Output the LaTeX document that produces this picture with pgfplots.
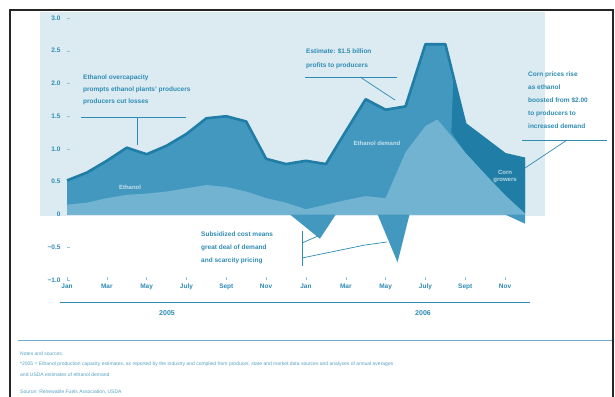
\documentclass[border=0pt]{standalone}
\usepackage{fontspec}
\setmainfont{Liberation Sans}
\usepackage{pgfplots}
\pgfplotsset{compat=1.18}
\definecolor{bgc}{HTML}{DCEBF2}
\definecolor{med}{HTML}{4298BF}
\definecolor{lite}{HTML}{7DBAD6}
\definecolor{dark}{HTML}{1F7DA6}
\definecolor{txt}{HTML}{2E8BB3}
\begin{document}
\begin{tikzpicture}[x=1pt,y=1pt]
\path[use as bounding box] (0,0) rectangle (615,-396);
\fill[white] (0,0) rectangle (615,-396);
\fill[bgc] (40,-12) rectangle (545,-216);
\draw[black!85, line width=1.8pt] (10,-400) -- (10,-10) -- (613,-10) -- (613,-400);
\begin{axis}[at={(67pt,-280pt)}, anchor=south west, scale only axis,
  width=458pt, height=262pt, xmin=0, xmax=23, ymin=-1, ymax=3, clip=false,
  axis line style={draw=none},
  xtick={0,2,4,6,8,10,12,14,16,18,20,22},
  xticklabels={Jan,Mar,May,July,Sept,Nov,Jan,Mar,May,July,Sept,Nov},
  ytick={-1,-0.5,0,0.5,1,1.5,2,2.5,3},
  yticklabels={−1.0,−0.5,0,0.5,1.0,1.5,2.0,2.5,3.0},
  xtick pos=lower, ytick pos=left, tick align=inside,
  major tick length=3pt, tick style={txt!50, line width=0.4pt},
  tick label style={font=\bfseries\fontsize{6.5}{7}\selectfont, text=txt},
  yticklabel style={xshift=-3pt},
]
% total area incl. negative dips
\addplot[draw=none, fill=med] coordinates {
 (0,0.52) (1,0.64) (2,0.82) (3,1.02) (4,0.92) (5,1.05) (6,1.23) (7,1.47)
 (8,1.50) (9,1.42) (10,0.85) (11,0.77) (12,0.82) (13,0.77) (14,1.27) (15,1.76)
 (16,1.60) (17,1.65) (18,2.60) (19,2.60) (20,1.38) (21,1.15) (22,0.92) (23,0.85)
 (23,-0.14) (22.0,0) (17.2,0) (16.6,-0.73) (15.6,0) (13.5,0) (12.7,-0.37) (11.2,0) (0,0)} -- cycle;
% lighter inner component
\addplot[draw=none, fill=lite, fill opacity=0.8] coordinates {
 (0,0.15) (1,0.18) (2,0.25) (3,0.30) (4,0.32) (5,0.35) (6,0.40) (7,0.45)
 (8,0.42) (9,0.35) (10,0.25) (11,0.18) (12,0.08) (13,0.15) (14,0.22) (15,0.28)
 (16,0.25) (17,0.95) (18,1.35) (18.6,1.45) (20,0.95) (21,0.62) (22,0.30) (23,0.02)
 (23,0) (0,0)} -- cycle;
% core growth region
\addplot[draw=none, fill=dark] coordinates {
 (19.4,2.05) (20,1.38) (21,1.15) (22,0.92) (23,0.85) (23,0.02) (22,0.30) (21,0.62) (20,0.95) (19.3,1.25)} -- cycle;
% total line
\addplot[dark, line width=2.6pt, line join=round] coordinates {
 (0,0.52) (1,0.64) (2,0.82) (3,1.02) (4,0.92) (5,1.05) (6,1.23) (7,1.47)
 (8,1.50) (9,1.42) (10,0.85) (11,0.77) (12,0.82) (13,0.77) (14,1.27) (15,1.76)
 (16,1.60) (17,1.65) (18,2.60) (19,2.60) (20,1.38) (21,1.15) (22,0.92) (23,0.85)};
\end{axis}
% inner labels
\node[text=white!70!med, font=\bfseries\fontsize{6}{7}\selectfont] at (130,-187) {Ethanol};
\node[text=white!70!med, font=\bfseries\fontsize{6}{7}\selectfont] at (377,-143) {Ethanol demand};
\node[text=white!70!dark, font=\bfseries\fontsize{6}{7}\selectfont, align=center, inner sep=0pt] at (505,-177) {Corn\\growers};
% annotation 1
\node[text=txt, font=\bfseries\fontsize{6.5}{12}\selectfont, anchor=north west, align=left, inner sep=0pt] at (83,-75) {Ethanol overcapacity\\prompts ethanol plants’ producers\\producers cut losses};
\draw[txt, line width=0.7pt] (81,-117) -- (186,-117);
\draw[txt, line width=0.7pt] (137,-117) -- (137,-145);
% annotation 2
\node[text=txt, font=\bfseries\fontsize{6.5}{14}\selectfont, anchor=north west, align=left, inner sep=0pt] at (306,-48) {Estimate: \$1.5 billion\\profits to producers};
\draw[txt, line width=0.7pt] (305,-77) -- (397,-77);
\draw[txt, line width=0.7pt] (360,-77) -- (395,-100);
% annotation 3
\node[text=txt, font=\bfseries\fontsize{6.5}{13}\selectfont, anchor=north west, align=left, inner sep=0pt] at (528,-72) {Corn prices rise\\as ethanol\\boosted from \$2.00\\to producers to\\increased demand};
\draw[txt, line width=0.7pt] (522,-140) -- (607,-140);
\draw[txt, line width=0.7pt] (567,-140) -- (525,-168);
% annotation 4
\node[text=txt, font=\bfseries\fontsize{6.5}{13}\selectfont, anchor=north west, align=left, inner sep=0pt] at (201,-232) {Subsidized cost means\\great deal of demand\\and scarcity pricing};
\draw[txt, line width=0.7pt] (302,-231) -- (302,-266);
\draw[txt, line width=0.7pt] (302,-243) -- (318,-236);
\draw[txt, line width=0.7pt] (302,-258) -- (365,-245) -- (387,-242);
% year axis
\draw[txt, line width=0.7pt] (60,-302) -- (530,-302);
\node[text=txt, font=\bfseries\fontsize{7}{8}\selectfont] at (167,-313) {2005};
\node[text=txt, font=\bfseries\fontsize{7}{8}\selectfont] at (423,-313) {2006};
% footer
\draw[txt!70, line width=0.6pt] (18,-340) -- (612,-340);
\node[text=txt!80, font=\fontsize{5}{6}\selectfont, anchor=west, inner sep=0pt] at (20,-354) {Notes and sources:};
\node[text=txt!80, font=\fontsize{5}{6}\selectfont, anchor=west, inner sep=0pt] at (20,-364) {*2005 = Ethanol production capacity estimates, as reported by the industry and compiled from producer, state and market data sources and analyses of annual averages};
\node[text=txt!80, font=\fontsize{5}{6}\selectfont, anchor=west, inner sep=0pt] at (20,-375) {and USDA estimates of ethanol demand};
\node[text=txt!80, font=\fontsize{5}{6}\selectfont, anchor=west, inner sep=0pt] at (20,-392) {Source: Renewable Fuels Association, USDA};
\end{tikzpicture}
\end{document}
